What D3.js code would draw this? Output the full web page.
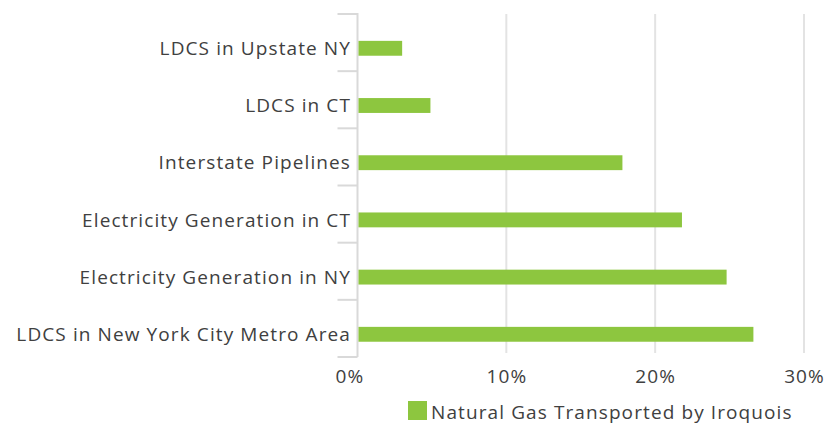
<!DOCTYPE html>
<html>
<head>
<meta charset="utf-8">
<script src="https://cdn.jsdelivr.net/npm/d3@7"></script>
<style>
  body { margin: 0; background: #fff; }
  svg text { font-family: "Open Sans", "Noto Sans", sans-serif; fill: #404040; font-size: 19px; letter-spacing: 1.1px; }
  .grid line { stroke: #e3e3e3; stroke-width: 2; }
  .yaxis line, .yaxis path { stroke: #d9d9d9; stroke-width: 2; }
</style>
</head>
<body>
<svg width="835" height="424"></svg>
<script>
var categories = ["LDCS in Upstate NY", "LDCS in CT", "Interstate Pipelines",
                  "Electricity Generation in CT", "Electricity Generation in NY",
                  "LDCS in New York City Metro Area"];
var shares = [3.0, 4.9, 17.8, 21.8, 24.8, 26.6];
var xTicks = [0, 10, 20, 30];
var seriesName = "Natural Gas Transported by Iroquois";

var svg = d3.select("svg");

var x = d3.scaleLinear()
    .domain([0, 30])
    .range([357.5, 804]);

// the bars sit a few px lower than the category ticks
var y = d3.scaleBand()
    .domain(categories)
    .range([19.7, 362.9])
    .paddingInner(0.74)
    .paddingOuter(0.37);

var tickY = d3.scaleBand()
    .domain(categories)
    .range([14, 357]);

// gridlines
svg.append("g")
    .attr("class", "grid")
  .selectAll("line")
  .data(xTicks.slice(1))
  .enter().append("line")
    .attr("x1", function(d) { return x(d); })
    .attr("x2", function(d) { return x(d); })
    .attr("y1", 14)
    .attr("y2", 353);

// category axis: vertical line plus boundary ticks
var ya = svg.append("g").attr("class", "yaxis");
ya.append("line")
    .attr("x1", x(0)).attr("x2", x(0))
    .attr("y1", 13).attr("y2", 357);
ya.selectAll("line.tk")
  .data(categories.map(function(d) { return tickY(d); }).concat([tickY.range()[1]]))
  .enter().append("line")
    .attr("class", "tk")
    .attr("x1", x(0) - 20).attr("x2", x(0))
    .attr("y1", function(d) { return d; })
    .attr("y2", function(d) { return d; });

svg.append("g")
  .selectAll("text")
  .data(categories)
  .enter().append("text")
    .attr("x", 351)
    .attr("y", function(d) { return y(d) + y.bandwidth() / 2; })
    .attr("dy", "0.35em")
    .attr("text-anchor", "end")
    .text(function(d) { return d; });

// bars
svg.append("g")
  .selectAll("rect")
  .data(shares)
  .enter().append("rect")
    .attr("x", x(0) + 1)
    .attr("y", function(d, i) { return y(categories[i]); })
    .attr("width", function(d) { return x(d) - x(0) - 1; })
    .attr("height", y.bandwidth())
    .attr("fill", "#8dc63f");

// value axis
var xa = svg.append("g")
    .attr("transform", "translate(0,363)")
    .call(d3.axisBottom(x).tickValues(xTicks).tickSize(0).tickPadding(6)
      .tickFormat(function(d) { return d + "%"; }));
xa.select(".domain").remove();
xa.attr("font-family", null).attr("font-size", null);
xa.selectAll("text").filter(function(d) { return d === 0; }).attr("dx", -8);

// legend
var lg = svg.append("g").attr("transform", "translate(408,401)");
lg.append("rect")
    .attr("width", 19).attr("height", 19)
    .attr("fill", "#8dc63f");
lg.append("text")
    .attr("x", 23).attr("y", 17.5)
    .text(seriesName);
</script>
</body>
</html>
